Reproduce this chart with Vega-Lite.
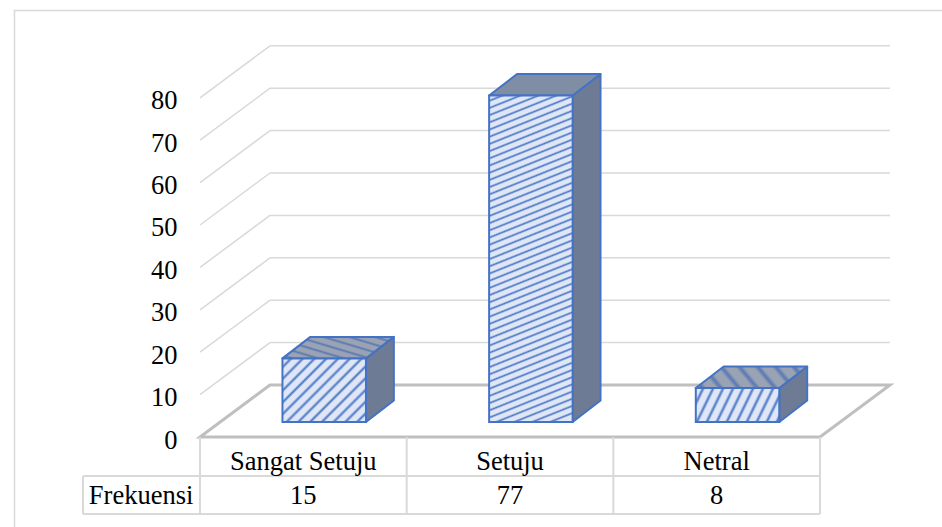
{"$schema":"https://vega.github.io/schema/vega-lite/v6.json","width":690,"height":392,"autosize":{"type":"none"},"padding":{"left":200,"top":45,"right":52,"bottom":90},"background":"white","config":{"view":{"stroke":null},"text":{"font":"Liberation Serif","fontSize":26.5,"color":"#000000","baseline":"middle"}},
"resolve":{"axis":{"y":"independent","x":"independent"}},
"datasets":{"bars":[{"kategori":"Sangat Setuju","frekuensi":15},{"kategori":"Setuju","frekuensi":77},{"kategori":"Netral","frekuensi":8}],"ticks":[{"t":0},{"t":10},{"t":20},{"t":30},{"t":40},{"t":50},{"t":60},{"t":70},{"t":80}],"cols":[{"c":0},{"c":1},{"c":2},{"c":3}],"one":[{"label":"Frekuensi"}]},
"layer":[
{"data":{"name":"one"},"mark":{"type":"rect","fill":null,"fillOpacity":0,"stroke":"#d9d9d9","strokeWidth":1.5},"encoding":{"x":{"datum":-0.8976,"type":"quantitative","scale":{"domain":[0,3.3387]},"axis":null},"x2":{"datum":3.6},"y":{"datum":100.6,"type":"quantitative","scale":{"domain":[0,92.45]},"axis":null},"y2":{"datum":-30}}},
{"data":{"name":"ticks"},"transform":[{"filter":"datum.t>0"},{"calculate":"datum.t+12.26","as":"back"}],"mark":{"type":"rule","color":"#d9d9d9","strokeWidth":1.5},"encoding":{"x":{"datum":0,"type":"quantitative","scale":{"domain":[0,3.3387]},"axis":null},"x2":{"datum":0.3387},"y":{"field":"t","type":"quantitative","scale":{"domain":[0,92.45]},"axis":{"values":[0,10,20,30,40,50,60,70,80],"domain":false,"ticks":false,"grid":false,"title":null,"labelFont":"Liberation Serif","labelFontSize":26.5,"labelColor":"#000000","labelPadding":23,"labelOffset":3}},"y2":{"field":"back"}}},
{"data":{"name":"ticks"},"transform":[{"filter":"datum.t>0"},{"calculate":"datum.t+12.26","as":"back"}],"mark":{"type":"rule","color":"#d9d9d9","strokeWidth":1.5},"encoding":{"x":{"datum":0.3387,"type":"quantitative","scale":{"domain":[0,3.3387]},"axis":null},"x2":{"datum":3.3387},"y":{"field":"back","type":"quantitative","scale":{"domain":[0,92.45]},"axis":null}}},
{"data":{"name":"one"},"transform":[{"calculate":"[0,1]","as":"d"},{"flatten":["d"]},{"calculate":"datum.d*0.3387","as":"a"},{"calculate":"3+datum.d*0.3387","as":"b"},{"calculate":"datum.d*12.26","as":"h"}],"mark":{"type":"area","orient":"horizontal","fill":"#ffffff","fillOpacity":0,"stroke":"#bfbfbf","strokeWidth":3},"encoding":{"x":{"field":"a","type":"quantitative","scale":{"domain":[0,3.3387]},"axis":null},"x2":{"field":"b"},"y":{"field":"h","type":"quantitative","scale":{"domain":[0,92.45]},"axis":null}}},
{"data":{"name":"cols"},"mark":{"type":"rule","color":"#d9d9d9","strokeWidth":2},"encoding":{"x":{"field":"c","type":"quantitative","scale":{"domain":[0,3.3387]},"axis":null},"y":{"datum":0,"type":"quantitative","scale":{"domain":[0,92.45]},"axis":null},"y2":{"datum":-18.16}}},
{"data":{"name":"one"},"mark":{"type":"rule","color":"#d9d9d9","strokeWidth":2},"encoding":{"x":{"datum":-0.566,"type":"quantitative","scale":{"domain":[0,3.3387]},"axis":null},"y":{"datum":-9.2,"type":"quantitative","scale":{"domain":[0,92.45]},"axis":null},"y2":{"datum":-18.16}}},
{"data":{"name":"one"},"mark":{"type":"rule","color":"#d9d9d9","strokeWidth":2},"encoding":{"x":{"datum":-0.566,"type":"quantitative","scale":{"domain":[0,3.3387]},"axis":null},"x2":{"datum":3},"y":{"datum":-9.2,"type":"quantitative","scale":{"domain":[0,92.45]},"axis":null}}},
{"data":{"name":"one"},"mark":{"type":"rule","color":"#d9d9d9","strokeWidth":2},"encoding":{"x":{"datum":-0.566,"type":"quantitative","scale":{"domain":[0,3.3387]},"axis":null},"x2":{"datum":3},"y":{"datum":-18.16,"type":"quantitative","scale":{"domain":[0,92.45]},"axis":null}}},
{"data":{"name":"bars"},"transform":[{"window":[{"op":"row_number","as":"n"}]},{"calculate":"[0,1]","as":"d"},{"flatten":["d"]},{"calculate":"datum.n-1+0.803+0.135*datum.d","as":"sx"},{"calculate":"3.54+5.07*datum.d","as":"sb"},{"calculate":"3.54+datum.frekuensi+5.07*datum.d","as":"st"}],"mark":{"type":"area","fill":"#6d7c94","stroke":"#4472c4","strokeWidth":2,"strokeJoin":"round"},"encoding":{"detail":{"field":"kategori"},"x":{"field":"sx","type":"quantitative","scale":{"domain":[0,3.3387]},"axis":null},"y":{"field":"st","type":"quantitative","scale":{"domain":[0,92.45]},"axis":null},"y2":{"field":"sb"}}},
{"data":{"name":"bars"},"transform":[{"filter":"datum.kategori==='Setuju'"},{"window":[{"op":"row_number","as":"n"}]},{"calculate":"[0,1]","as":"d"},{"flatten":["d"]},{"calculate":"1.399+0.135*datum.d","as":"tl"},{"calculate":"1.803+0.135*datum.d","as":"tr"},{"calculate":"3.54+datum.frekuensi+5.07*datum.d","as":"ty"}],"mark":{"type":"area","orient":"horizontal","fill":"#808ea5","stroke":"#4472c4","strokeWidth":2,"strokeJoin":"round"},"encoding":{"x":{"field":"tl","type":"quantitative","scale":{"domain":[0,3.3387]},"axis":null},"x2":{"field":"tr"},"y":{"field":"ty","type":"quantitative","scale":{"domain":[0,92.45]},"axis":null}}},
{"data":{"name":"bars"},"transform":[{"filter":"datum.kategori==='Sangat Setuju'"},{"calculate":"[0,1]","as":"d"},{"flatten":["d"]},{"calculate":"0.399+0.135*datum.d","as":"tl"},{"calculate":"0.803+0.135*datum.d","as":"tr"},{"calculate":"3.54+datum.frekuensi+5.07*datum.d","as":"ty"}],"mark":{"type":"area","orient":"horizontal","stroke":"#4472c4","strokeWidth":2,"strokeJoin":"round","fill":{"gradient":"linear","x1":1,"y1":0,"x2":-0.162,"y2":0.75,"stops":[{"offset":0,"color":"#99a3b4"},{"offset":0.07,"color":"#99a3b4"},{"offset":0.105,"color":"#5a78b4"},{"offset":0.14,"color":"#99a3b4"},{"offset":0.21,"color":"#99a3b4"},{"offset":0.245,"color":"#5a78b4"},{"offset":0.28,"color":"#99a3b4"},{"offset":0.35,"color":"#99a3b4"},{"offset":0.385,"color":"#5a78b4"},{"offset":0.42,"color":"#99a3b4"},{"offset":0.49,"color":"#99a3b4"},{"offset":0.525,"color":"#5a78b4"},{"offset":0.56,"color":"#99a3b4"},{"offset":0.63,"color":"#99a3b4"},{"offset":0.665,"color":"#5a78b4"},{"offset":0.7,"color":"#99a3b4"},{"offset":0.77,"color":"#99a3b4"},{"offset":0.805,"color":"#5a78b4"},{"offset":0.84,"color":"#99a3b4"},{"offset":0.91,"color":"#99a3b4"},{"offset":0.945,"color":"#5a78b4"},{"offset":0.98,"color":"#99a3b4"}]}},"encoding":{"x":{"field":"tl","type":"quantitative","scale":{"domain":[0,3.3387]},"axis":null},"x2":{"field":"tr"},"y":{"field":"ty","type":"quantitative","scale":{"domain":[0,92.45]},"axis":null}}},
{"data":{"name":"bars"},"transform":[{"filter":"datum.kategori==='Netral'"},{"calculate":"[0,1]","as":"d"},{"flatten":["d"]},{"calculate":"2.399+0.135*datum.d","as":"tl"},{"calculate":"2.803+0.135*datum.d","as":"tr"},{"calculate":"3.54+datum.frekuensi+5.07*datum.d","as":"ty"}],"mark":{"type":"area","orient":"horizontal","stroke":"#4472c4","strokeWidth":2,"strokeJoin":"round","fill":{"gradient":"linear","x1":1,"y1":0,"x2":-0.133,"y2":0.183,"stops":[{"offset":0,"color":"#99a3b4"},{"offset":0.07,"color":"#99a3b4"},{"offset":0.105,"color":"#5a78b4"},{"offset":0.14,"color":"#99a3b4"},{"offset":0.21,"color":"#99a3b4"},{"offset":0.245,"color":"#5a78b4"},{"offset":0.28,"color":"#99a3b4"},{"offset":0.35,"color":"#99a3b4"},{"offset":0.385,"color":"#5a78b4"},{"offset":0.42,"color":"#99a3b4"},{"offset":0.49,"color":"#99a3b4"},{"offset":0.525,"color":"#5a78b4"},{"offset":0.56,"color":"#99a3b4"},{"offset":0.63,"color":"#99a3b4"},{"offset":0.665,"color":"#5a78b4"},{"offset":0.7,"color":"#99a3b4"},{"offset":0.77,"color":"#99a3b4"},{"offset":0.805,"color":"#5a78b4"},{"offset":0.84,"color":"#99a3b4"},{"offset":0.91,"color":"#99a3b4"},{"offset":0.945,"color":"#5a78b4"},{"offset":0.98,"color":"#99a3b4"}]}},"encoding":{"x":{"field":"tl","type":"quantitative","scale":{"domain":[0,3.3387]},"axis":null},"x2":{"field":"tr"},"y":{"field":"ty","type":"quantitative","scale":{"domain":[0,92.45]},"axis":null}}},
{"data":{"name":"bars"},"transform":[{"filter":"datum.kategori==='Sangat Setuju'"},{"calculate":"3.54+datum.frekuensi","as":"top"}],"mark":{"type":"rect","stroke":"#4472c4","strokeWidth":2,"fill":{"gradient":"linear","x1":0,"y1":0,"x2":1.115,"y2":0.848,"stops":[{"offset":0,"color":"#dfe7f6"},{"offset":0.04,"color":"#dfe7f6"},{"offset":0.06,"color":"#4a76c8"},{"offset":0.08,"color":"#dfe7f6"},{"offset":0.12,"color":"#dfe7f6"},{"offset":0.14,"color":"#4a76c8"},{"offset":0.16,"color":"#dfe7f6"},{"offset":0.2,"color":"#dfe7f6"},{"offset":0.22,"color":"#4a76c8"},{"offset":0.24,"color":"#dfe7f6"},{"offset":0.28,"color":"#dfe7f6"},{"offset":0.3,"color":"#4a76c8"},{"offset":0.32,"color":"#dfe7f6"},{"offset":0.36,"color":"#dfe7f6"},{"offset":0.38,"color":"#4a76c8"},{"offset":0.4,"color":"#dfe7f6"},{"offset":0.44,"color":"#dfe7f6"},{"offset":0.46,"color":"#4a76c8"},{"offset":0.48,"color":"#dfe7f6"},{"offset":0.52,"color":"#dfe7f6"},{"offset":0.54,"color":"#4a76c8"},{"offset":0.56,"color":"#dfe7f6"},{"offset":0.6,"color":"#dfe7f6"},{"offset":0.62,"color":"#4a76c8"},{"offset":0.64,"color":"#dfe7f6"},{"offset":0.68,"color":"#dfe7f6"},{"offset":0.7,"color":"#4a76c8"},{"offset":0.72,"color":"#dfe7f6"},{"offset":0.76,"color":"#dfe7f6"},{"offset":0.78,"color":"#4a76c8"},{"offset":0.8,"color":"#dfe7f6"},{"offset":0.84,"color":"#dfe7f6"},{"offset":0.86,"color":"#4a76c8"},{"offset":0.88,"color":"#dfe7f6"},{"offset":0.92,"color":"#dfe7f6"},{"offset":0.94,"color":"#4a76c8"},{"offset":0.96,"color":"#dfe7f6"},{"offset":1,"color":"#dfe7f6"}]}},"encoding":{"x":{"datum":0.399,"type":"quantitative","scale":{"domain":[0,3.3387]},"axis":null},"x2":{"datum":0.803},"y":{"field":"top","type":"quantitative","scale":{"domain":[0,92.45]},"axis":null},"y2":{"datum":3.54}}},
{"data":{"name":"bars"},"transform":[{"filter":"datum.kategori==='Setuju'"},{"calculate":"3.54+datum.frekuensi","as":"top"}],"mark":{"type":"rect","stroke":"#4472c4","strokeWidth":2,"fill":{"gradient":"linear","x1":0,"y1":0,"x2":0.1118,"y2":1.091,"stops":[{"offset":0,"color":"#dfe7f6"},{"offset":0.01,"color":"#dfe7f6"},{"offset":0.015,"color":"#4a76c8"},{"offset":0.02,"color":"#dfe7f6"},{"offset":0.03,"color":"#dfe7f6"},{"offset":0.035,"color":"#4a76c8"},{"offset":0.04,"color":"#dfe7f6"},{"offset":0.05,"color":"#dfe7f6"},{"offset":0.055,"color":"#4a76c8"},{"offset":0.06,"color":"#dfe7f6"},{"offset":0.07,"color":"#dfe7f6"},{"offset":0.075,"color":"#4a76c8"},{"offset":0.08,"color":"#dfe7f6"},{"offset":0.09,"color":"#dfe7f6"},{"offset":0.095,"color":"#4a76c8"},{"offset":0.1,"color":"#dfe7f6"},{"offset":0.11,"color":"#dfe7f6"},{"offset":0.115,"color":"#4a76c8"},{"offset":0.12,"color":"#dfe7f6"},{"offset":0.13,"color":"#dfe7f6"},{"offset":0.135,"color":"#4a76c8"},{"offset":0.14,"color":"#dfe7f6"},{"offset":0.15,"color":"#dfe7f6"},{"offset":0.155,"color":"#4a76c8"},{"offset":0.16,"color":"#dfe7f6"},{"offset":0.17,"color":"#dfe7f6"},{"offset":0.175,"color":"#4a76c8"},{"offset":0.18,"color":"#dfe7f6"},{"offset":0.19,"color":"#dfe7f6"},{"offset":0.195,"color":"#4a76c8"},{"offset":0.2,"color":"#dfe7f6"},{"offset":0.21,"color":"#dfe7f6"},{"offset":0.215,"color":"#4a76c8"},{"offset":0.22,"color":"#dfe7f6"},{"offset":0.23,"color":"#dfe7f6"},{"offset":0.235,"color":"#4a76c8"},{"offset":0.24,"color":"#dfe7f6"},{"offset":0.25,"color":"#dfe7f6"},{"offset":0.255,"color":"#4a76c8"},{"offset":0.26,"color":"#dfe7f6"},{"offset":0.27,"color":"#dfe7f6"},{"offset":0.275,"color":"#4a76c8"},{"offset":0.28,"color":"#dfe7f6"},{"offset":0.29,"color":"#dfe7f6"},{"offset":0.295,"color":"#4a76c8"},{"offset":0.3,"color":"#dfe7f6"},{"offset":0.31,"color":"#dfe7f6"},{"offset":0.315,"color":"#4a76c8"},{"offset":0.32,"color":"#dfe7f6"},{"offset":0.33,"color":"#dfe7f6"},{"offset":0.335,"color":"#4a76c8"},{"offset":0.34,"color":"#dfe7f6"},{"offset":0.35,"color":"#dfe7f6"},{"offset":0.355,"color":"#4a76c8"},{"offset":0.36,"color":"#dfe7f6"},{"offset":0.37,"color":"#dfe7f6"},{"offset":0.375,"color":"#4a76c8"},{"offset":0.38,"color":"#dfe7f6"},{"offset":0.39,"color":"#dfe7f6"},{"offset":0.395,"color":"#4a76c8"},{"offset":0.4,"color":"#dfe7f6"},{"offset":0.41,"color":"#dfe7f6"},{"offset":0.415,"color":"#4a76c8"},{"offset":0.42,"color":"#dfe7f6"},{"offset":0.43,"color":"#dfe7f6"},{"offset":0.435,"color":"#4a76c8"},{"offset":0.44,"color":"#dfe7f6"},{"offset":0.45,"color":"#dfe7f6"},{"offset":0.455,"color":"#4a76c8"},{"offset":0.46,"color":"#dfe7f6"},{"offset":0.47,"color":"#dfe7f6"},{"offset":0.475,"color":"#4a76c8"},{"offset":0.48,"color":"#dfe7f6"},{"offset":0.49,"color":"#dfe7f6"},{"offset":0.495,"color":"#4a76c8"},{"offset":0.5,"color":"#dfe7f6"},{"offset":0.51,"color":"#dfe7f6"},{"offset":0.515,"color":"#4a76c8"},{"offset":0.52,"color":"#dfe7f6"},{"offset":0.53,"color":"#dfe7f6"},{"offset":0.535,"color":"#4a76c8"},{"offset":0.54,"color":"#dfe7f6"},{"offset":0.55,"color":"#dfe7f6"},{"offset":0.555,"color":"#4a76c8"},{"offset":0.56,"color":"#dfe7f6"},{"offset":0.57,"color":"#dfe7f6"},{"offset":0.575,"color":"#4a76c8"},{"offset":0.58,"color":"#dfe7f6"},{"offset":0.59,"color":"#dfe7f6"},{"offset":0.595,"color":"#4a76c8"},{"offset":0.6,"color":"#dfe7f6"},{"offset":0.61,"color":"#dfe7f6"},{"offset":0.615,"color":"#4a76c8"},{"offset":0.62,"color":"#dfe7f6"},{"offset":0.63,"color":"#dfe7f6"},{"offset":0.635,"color":"#4a76c8"},{"offset":0.64,"color":"#dfe7f6"},{"offset":0.65,"color":"#dfe7f6"},{"offset":0.655,"color":"#4a76c8"},{"offset":0.66,"color":"#dfe7f6"},{"offset":0.67,"color":"#dfe7f6"},{"offset":0.675,"color":"#4a76c8"},{"offset":0.68,"color":"#dfe7f6"},{"offset":0.69,"color":"#dfe7f6"},{"offset":0.695,"color":"#4a76c8"},{"offset":0.7,"color":"#dfe7f6"},{"offset":0.71,"color":"#dfe7f6"},{"offset":0.715,"color":"#4a76c8"},{"offset":0.72,"color":"#dfe7f6"},{"offset":0.73,"color":"#dfe7f6"},{"offset":0.735,"color":"#4a76c8"},{"offset":0.74,"color":"#dfe7f6"},{"offset":0.75,"color":"#dfe7f6"},{"offset":0.755,"color":"#4a76c8"},{"offset":0.76,"color":"#dfe7f6"},{"offset":0.77,"color":"#dfe7f6"},{"offset":0.775,"color":"#4a76c8"},{"offset":0.78,"color":"#dfe7f6"},{"offset":0.79,"color":"#dfe7f6"},{"offset":0.795,"color":"#4a76c8"},{"offset":0.8,"color":"#dfe7f6"},{"offset":0.81,"color":"#dfe7f6"},{"offset":0.815,"color":"#4a76c8"},{"offset":0.82,"color":"#dfe7f6"},{"offset":0.83,"color":"#dfe7f6"},{"offset":0.835,"color":"#4a76c8"},{"offset":0.84,"color":"#dfe7f6"},{"offset":0.85,"color":"#dfe7f6"},{"offset":0.855,"color":"#4a76c8"},{"offset":0.86,"color":"#dfe7f6"},{"offset":0.87,"color":"#dfe7f6"},{"offset":0.875,"color":"#4a76c8"},{"offset":0.88,"color":"#dfe7f6"},{"offset":0.89,"color":"#dfe7f6"},{"offset":0.895,"color":"#4a76c8"},{"offset":0.9,"color":"#dfe7f6"},{"offset":0.91,"color":"#dfe7f6"},{"offset":0.915,"color":"#4a76c8"},{"offset":0.92,"color":"#dfe7f6"},{"offset":0.93,"color":"#dfe7f6"},{"offset":0.935,"color":"#4a76c8"},{"offset":0.94,"color":"#dfe7f6"},{"offset":0.95,"color":"#dfe7f6"},{"offset":0.955,"color":"#4a76c8"},{"offset":0.96,"color":"#dfe7f6"},{"offset":0.97,"color":"#dfe7f6"},{"offset":0.975,"color":"#4a76c8"},{"offset":0.98,"color":"#dfe7f6"},{"offset":0.99,"color":"#dfe7f6"},{"offset":1,"color":"#dfe7f6"}]}},"encoding":{"x":{"datum":1.399,"type":"quantitative","scale":{"domain":[0,3.3387]},"axis":null},"x2":{"datum":1.803},"y":{"field":"top","type":"quantitative","scale":{"domain":[0,92.45]},"axis":null},"y2":{"datum":3.54}}},
{"data":{"name":"bars"},"transform":[{"filter":"datum.kategori==='Netral'"},{"calculate":"3.54+datum.frekuensi","as":"top"}],"mark":{"type":"rect","stroke":"#4472c4","strokeWidth":2,"fill":{"gradient":"linear","x1":0,"y1":0,"x2":1.152,"y2":0.2277,"stops":[{"offset":0,"color":"#dfe7f6"},{"offset":0.05,"color":"#dfe7f6"},{"offset":0.075,"color":"#4a76c8"},{"offset":0.1,"color":"#dfe7f6"},{"offset":0.15,"color":"#dfe7f6"},{"offset":0.175,"color":"#4a76c8"},{"offset":0.2,"color":"#dfe7f6"},{"offset":0.25,"color":"#dfe7f6"},{"offset":0.275,"color":"#4a76c8"},{"offset":0.3,"color":"#dfe7f6"},{"offset":0.35,"color":"#dfe7f6"},{"offset":0.375,"color":"#4a76c8"},{"offset":0.4,"color":"#dfe7f6"},{"offset":0.45,"color":"#dfe7f6"},{"offset":0.475,"color":"#4a76c8"},{"offset":0.5,"color":"#dfe7f6"},{"offset":0.55,"color":"#dfe7f6"},{"offset":0.575,"color":"#4a76c8"},{"offset":0.6,"color":"#dfe7f6"},{"offset":0.65,"color":"#dfe7f6"},{"offset":0.675,"color":"#4a76c8"},{"offset":0.7,"color":"#dfe7f6"},{"offset":0.75,"color":"#dfe7f6"},{"offset":0.775,"color":"#4a76c8"},{"offset":0.8,"color":"#dfe7f6"},{"offset":0.85,"color":"#dfe7f6"},{"offset":0.875,"color":"#4a76c8"},{"offset":0.9,"color":"#dfe7f6"},{"offset":0.95,"color":"#dfe7f6"},{"offset":0.975,"color":"#4a76c8"},{"offset":1,"color":"#dfe7f6"}]}},"encoding":{"x":{"datum":2.399,"type":"quantitative","scale":{"domain":[0,3.3387]},"axis":null},"x2":{"datum":2.803},"y":{"field":"top","type":"quantitative","scale":{"domain":[0,92.45]},"axis":null},"y2":{"datum":3.54}}},
{"data":{"name":"bars"},"transform":[{"window":[{"op":"row_number","as":"n"}]},{"calculate":"datum.n-0.5","as":"cx"}],"mark":{"type":"text"},"encoding":{"x":{"field":"cx","type":"quantitative","scale":{"domain":[0,3.3387]},"axis":null},"y":{"datum":-5.9,"type":"quantitative","scale":{"domain":[0,92.45]},"axis":null},"text":{"field":"kategori"}}},
{"data":{"name":"bars"},"transform":[{"window":[{"op":"row_number","as":"n"}]},{"calculate":"datum.n-0.5","as":"cx"}],"mark":{"type":"text"},"encoding":{"x":{"field":"cx","type":"quantitative","scale":{"domain":[0,3.3387]},"axis":null},"y":{"datum":-13.85,"type":"quantitative","scale":{"domain":[0,92.45]},"axis":null},"text":{"field":"frekuensi","type":"quantitative"}}},
{"data":{"name":"one"},"mark":{"type":"text"},"encoding":{"x":{"datum":-0.285,"type":"quantitative","scale":{"domain":[0,3.3387]},"axis":null},"y":{"datum":-13.85,"type":"quantitative","scale":{"domain":[0,92.45]},"axis":null},"text":{"field":"label"}}}
]}
